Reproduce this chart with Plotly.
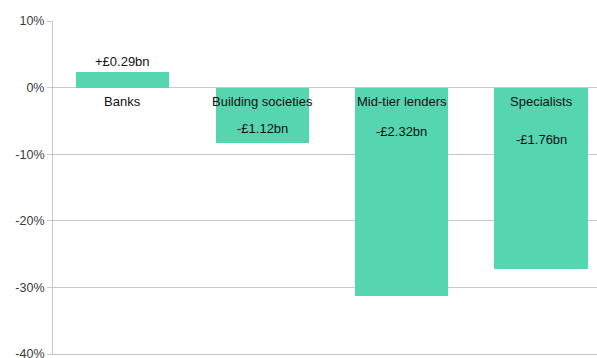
import plotly.graph_objects as go

# Change in lending by lender type (% change), with £bn change labels
categories = ["Banks", "Building societies", "Mid-tier lenders", "Specialists"]
pct_change = [2.3, -8.3, -31.3, -27.2]
value_labels = ["+£0.29bn", "-£1.12bn", "-£2.32bn", "-£1.76bn"]
value_label_y = [3.9, -6.2, -6.6, -7.8]
category_label_y = -2.1

tick_vals = [10, 0, -10, -20, -30, -40]
tick_text = ["10%", "0%", "-10%", "-20%", "-30%", "-40%"]

bar_color = "#55D6B0"
grid_color = "#C8C8C8"
font_family = "Liberation Sans, Arial, sans-serif"

fig = go.Figure()
fig.add_trace(go.Bar(
    x=list(range(len(categories))),
    y=pct_change,
    width=0.67,
    marker=dict(color=bar_color, line=dict(width=0)),
    hoverinfo="skip",
))

annotations = []
for i, (cat, lab, ly) in enumerate(zip(categories, value_labels, value_label_y)):
    annotations.append(dict(x=i, y=category_label_y, text=cat, showarrow=False,
                            xref="x", yref="y",
                            font=dict(family=font_family, size=13, color="#111111")))
    annotations.append(dict(x=i, y=ly, text=lab, showarrow=False,
                            xref="x", yref="y",
                            font=dict(family=font_family, size=13, color="#111111")))

fig.update_layout(
    width=597, height=358,
    margin=dict(l=53, r=0, t=21, b=4, autoexpand=False),
    paper_bgcolor="white", plot_bgcolor="white",
    showlegend=False,
    bargap=0,
    annotations=annotations,
    font=dict(family=font_family, size=12, color="#333333"),
    xaxis=dict(range=[-0.5, 3.4], showticklabels=False, showgrid=False,
               zeroline=False, showline=True, linecolor=grid_color, linewidth=1,
               automargin=False, fixedrange=True),
    yaxis=dict(range=[-40, 10], tickvals=tick_vals, ticktext=tick_text,
               showgrid=True, gridcolor=grid_color, gridwidth=1,
               zeroline=True, zerolinecolor=grid_color, zerolinewidth=1,
               showline=True, linecolor=grid_color, linewidth=1,
               ticks="outside", ticklen=5, tickcolor=grid_color,
               ticklabeloverflow="allow", automargin=False,
               tickfont=dict(family=font_family, size=12.5, color="#3A3A3A"),
               fixedrange=True),
)

fig.write_html("out.html")
